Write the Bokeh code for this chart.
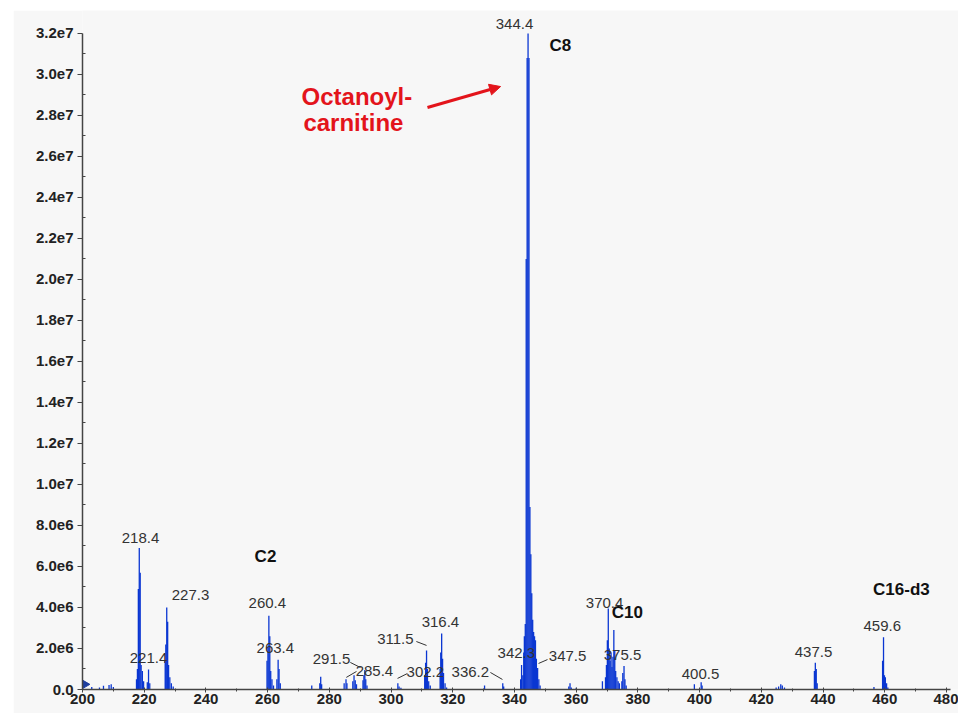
from bokeh.plotting import figure
from bokeh.models import FixedTicker, Label, Arrow, NormalHead, Range1d
from bokeh.embed import file_html
from bokeh.resources import INLINE
from bokeh.core.properties import value

# ---------------- data (m/z, intensity) ----------------
mz = [203.0, 205.5, 206.8, 208.6, 209.3, 210.0,
      217.5, 217.8, 218.1, 218.4, 218.7, 219.0, 219.4, 219.8,
      221.0, 221.4, 221.8,
      226.8, 227.0, 227.3, 227.6, 227.9, 228.3, 228.8, 229.4,
      259.8, 260.1, 260.4, 260.7, 261.0, 261.4, 261.9,
      263.0, 263.4, 263.7, 264.1,
      274.3,
      276.9, 277.2, 277.5,
      284.8, 285.4, 285.7,
      287.6, 288.0, 288.4, 288.8,
      290.9, 291.2, 291.5, 291.8, 292.2,
      302.2, 302.6, 303.2,
      310.9, 311.2, 311.5, 311.8, 312.2, 312.7,
      315.9, 316.1, 316.4, 316.7, 317.0, 317.5, 318.0,
      330.3,
      336.2, 336.5,
      342.0, 342.3, 342.7, 343.0, 343.2, 343.5, 343.8, 344.1, 344.4, 344.7,
      345.0, 345.3, 345.6, 345.9, 346.2, 346.5, 346.8, 347.1, 347.5, 347.9, 348.3,
      357.6, 358.0, 358.4, 360.0,
      368.5, 369.5, 369.8, 370.1, 370.4, 370.7, 371.0, 371.3, 371.6, 371.9,
      372.2, 372.5, 372.8, 373.2, 373.6, 374.0, 374.8, 375.1, 375.5, 375.8, 376.2,
      398.3, 400.5, 400.8,
      424.8, 425.6, 426.3, 426.8, 427.5,
      437.2, 437.5, 437.8, 438.1,
      456.5,
      459.3, 459.6, 459.9, 460.2, 460.6, 461.0]

intensity = [0.12e6, 0.10e6, 0.18e6, 0.22e6, 0.25e6, 0.12e6,
             0.5e6, 1.0e6, 4.9e6, 6.9e6, 5.7e6, 1.2e6, 0.9e6, 0.4e6,
             0.35e6, 0.98e6, 0.3e6,
             1.4e6, 2.2e6, 4.0e6, 3.3e6, 1.2e6, 0.6e6, 0.3e6, 0.15e6,
             1.4e6, 2.1e6, 3.6e6, 2.6e6, 0.9e6, 0.5e6, 0.2e6,
             0.5e6, 1.45e6, 1.0e6, 0.3e6,
             0.2e6,
             0.3e6, 0.62e6, 0.25e6,
             0.3e6, 0.5e6, 0.3e6,
             0.4e6, 0.7e6, 0.45e6, 0.25e6,
             0.45e6, 0.7e6, 0.95e6, 0.5e6, 0.2e6,
             0.3e6, 0.15e6, 0.08e6,
             0.7e6, 1.3e6, 1.9e6, 1.0e6, 0.4e6, 0.2e6,
             1.0e6, 1.8e6, 2.73e6, 1.5e6, 0.8e6, 0.3e6, 0.1e6,
             0.2e6,
             0.3e6, 0.15e6,
             0.5e6, 1.2e6, 0.7e6, 1.8e6, 2.6e6, 3.2e6, 21.0e6, 30.8e6, 32.0e6, 30.8e6,
             8.9e6, 6.6e6, 4.7e6, 3.4e6, 2.8e6, 2.6e6, 2.4e6, 1.5e6, 1.05e6, 0.5e6, 0.2e6,
             0.15e6, 0.3e6, 0.1e6, 0.08e6,
             0.4e6, 0.6e6, 1.2e6, 2.4e6, 3.95e6, 2.0e6, 1.4e6, 1.8e6, 1.1e6, 1.6e6,
             2.9e6, 1.9e6, 0.9e6, 0.6e6, 0.4e6, 0.3e6, 0.4e6, 0.8e6, 1.15e6, 0.5e6, 0.2e6,
             0.25e6, 0.35e6, 0.2e6,
             0.1e6, 0.15e6, 0.25e6, 0.2e6, 0.1e6,
             0.9e6, 1.3e6, 1.0e6, 0.3e6,
             0.12e6,
             1.4e6, 2.55e6, 0.7e6, 0.6e6, 0.3e6, 0.1e6]

# peak labels (text and where it sits)
peak_labels = ["344.4", "218.4", "221.4", "227.3", "260.4", "263.4", "291.5", "285.4",
               "302.2", "336.2", "311.5", "316.4", "342.3", "347.5", "370.4", "375.5",
               "400.5", "437.5", "459.6"]
peak_label_x = [340.0, 218.8, 221.4, 235.0, 259.9, 262.5, 280.7, 294.6,
                311.1, 325.7, 301.4, 316.0, 340.6, 357.2, 369.2, 375.0,
                400.3, 436.9, 459.2]
peak_label_y = [32.45e6, 7.41e6, 1.56e6, 4.59e6, 4.20e6, 2.0e6, 1.51e6, 0.88e6,
                0.83e6, 0.83e6, 2.44e6, 3.27e6, 1.76e6, 1.61e6, 4.24e6, 1.66e6,
                0.78e6, 1.85e6, 3.12e6]

# leader lines for crowded labels
lead_x0 = [286.8, 285.5, 302.1, 332.2, 308.2, 347.8]
lead_y0 = [1.32e6, 0.59e6, 0.54e6, 0.83e6, 2.34e6, 1.27e6]
lead_x1 = [290.1, 288.8, 305.3, 336.1, 311.5, 350.7]
lead_y1 = [1.07e6, 0.88e6, 0.78e6, 0.49e6, 2.15e6, 1.46e6]

# compound names
compounds = ["C8", "C2", "C10", "C16-d3"]
compound_x = [354.9, 259.3, 376.6, 465.4]
compound_y = [31.41e6, 6.49e6, 3.76e6, 4.88e6]

y_ticks = [0, 2e6, 4e6, 6e6, 8e6, 1.0e7, 1.2e7, 1.4e7, 1.6e7, 1.8e7,
           2.0e7, 2.2e7, 2.4e7, 2.6e7, 2.8e7, 3.0e7, 3.2e7]
y_tick_labels = ["0.0", "2.0e6", "4.0e6", "6.0e6", "8.0e6", "1.0e7", "1.2e7", "1.4e7",
                 "1.6e7", "1.8e7", "2.0e7", "2.2e7", "2.4e7", "2.6e7", "2.8e7",
                 "3.0e7", "3.2e7"]
x_ticks = [200, 220, 240, 260, 280, 300, 320, 340, 360, 380, 400, 420, 440, 460, 480]

BG = "#f7f7f7"
BLUE = "#0a36d2"
FONT = "Liberation Sans"

p = figure(width=945, height=703, output_backend="svg", toolbar_location=None,
           title=None, x_range=Range1d(200, 483.9), y_range=Range1d(0, 33.12e6),
           min_border_left=69, min_border_right=0, min_border_top=0, min_border_bottom=24,
           background_fill_color=BG, border_fill_color=BG)
p.styles = {"margin-left": "13px", "margin-top": "10px"}
p.outline_line_color = None
p.grid.visible = False

p.vbar(x=mz, top=intensity, width=0.42, bottom=0, fill_color=BLUE, line_color=None)

# threshold marker at the left end of the baseline
p.scatter(x=[200.7], y=[0.25e6], marker="triangle", angle=-1.5708, size=9,
          fill_color="#1f3f9f", line_color="#1f3f9f")

p.text(x=peak_label_x, y=peak_label_y, text=peak_labels, text_font=value(FONT),
       text_font_size="15px", text_align="center", text_baseline="middle",
       text_color="#333333")
p.segment(x0=lead_x0, y0=lead_y0, x1=lead_x1, y1=lead_y1, line_color="#333333",
          line_width=1)
p.text(x=compound_x, y=compound_y, text=compounds, text_font=value(FONT),
       text_font_size="17px", text_font_style="bold", text_align="center",
       text_baseline="middle", text_color="#111111")

RED = "#e3141b"
p.add_layout(Label(x=271.0, y=28.93e6, text="Octanoyl-", text_font=FONT,
                   text_font_size="24px", text_font_style="bold", text_color=RED,
                   text_baseline="middle", text_align="left"))
p.add_layout(Label(x=271.6, y=27.66e6, text="carnitine", text_font=FONT,
                   text_font_size="24px", text_font_style="bold", text_color=RED,
                   text_baseline="middle", text_align="left"))
p.add_layout(Arrow(end=NormalHead(size=11, fill_color=RED, line_color=RED),
                   x_start=311.8, y_start=28.39e6, x_end=335.5, y_end=29.41e6,
                   line_color=RED, line_width=3))

for ax in (p.xaxis[0], p.yaxis[0]):
    ax.axis_line_color = "#444444"
    ax.axis_line_width = 1.5
    ax.major_tick_line_color = "#444444"
    ax.minor_tick_line_color = "#444444"
    ax.major_label_text_font = FONT
    ax.major_label_text_font_style = "bold"
    ax.major_label_text_font_size = "15px"
    ax.major_label_text_color = "#222222"

p.yaxis.ticker = FixedTicker(ticks=y_ticks,
                             minor_ticks=[t + 1e6 for t in y_ticks[:-1]])
p.yaxis.major_label_overrides = {t: s for t, s in zip(y_ticks, y_tick_labels)}
p.yaxis.bounds = (0, 3.2e7)
p.yaxis.major_tick_out = 5
p.yaxis.major_tick_in = 0
p.yaxis.minor_tick_out = 0
p.yaxis.minor_tick_in = 3
p.yaxis.major_label_standoff = 4

p.xaxis.ticker = FixedTicker(ticks=x_ticks, minor_ticks=[t + 10 for t in x_ticks[:-1]])
p.xaxis.bounds = (200, 481.3)
p.xaxis.major_tick_out = 3
p.xaxis.major_tick_in = 2
p.xaxis.minor_tick_out = 2
p.xaxis.minor_tick_in = 1
p.xaxis.major_label_standoff = 1

open("out.html", "w").write(file_html(p, INLINE))
